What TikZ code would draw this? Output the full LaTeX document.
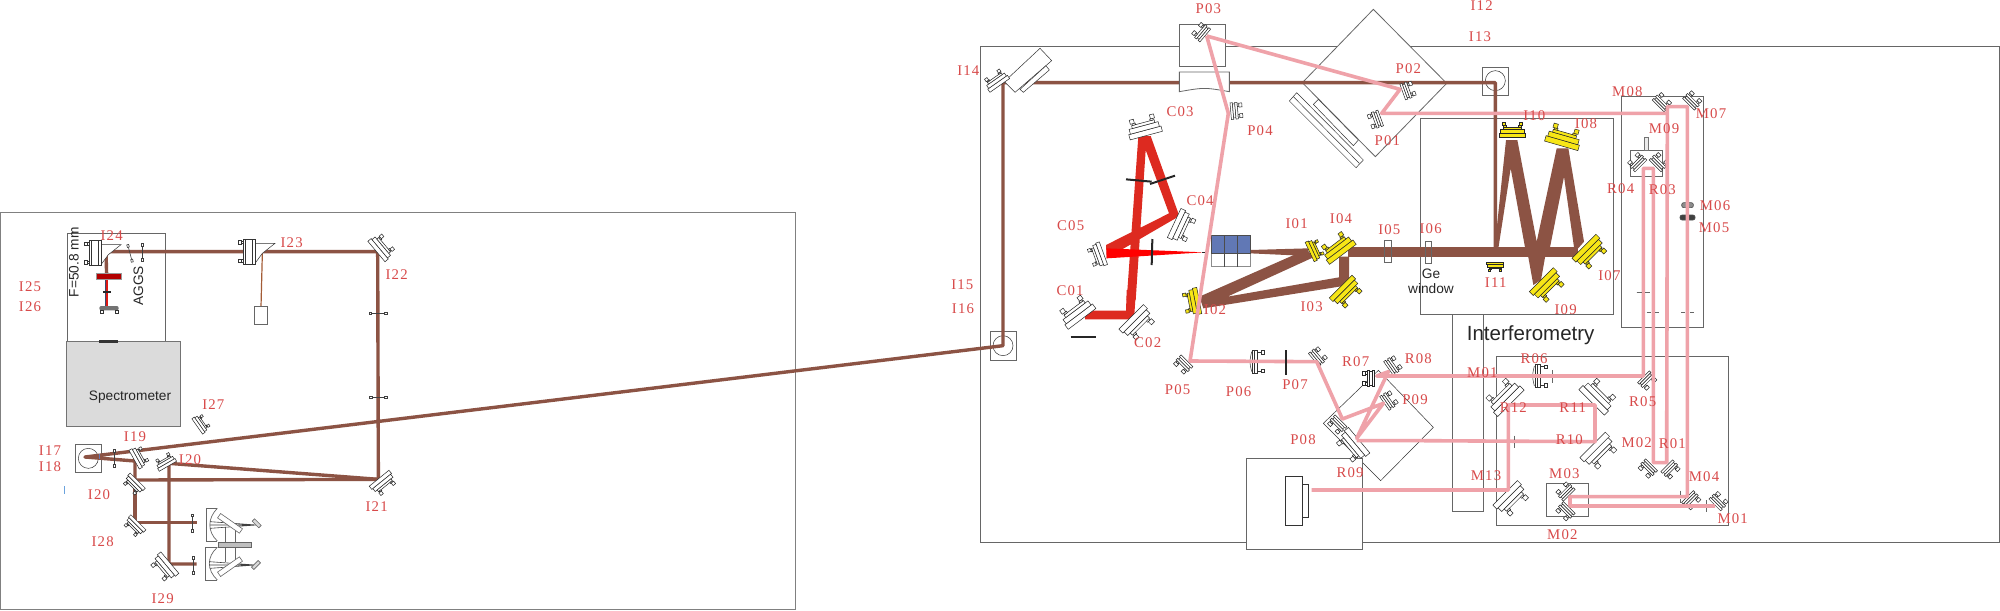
\documentclass[tikz,border=0pt]{standalone}
\usepackage{fontspec}
\setmainfont{Liberation Sans}
\newfontfamily\labf{Liberation Serif}[LetterSpace=8]
\definecolor{bro}{HTML}{8C5344}
\definecolor{pnk}{HTML}{EFA2A9}
\definecolor{rdb}{HTML}{DD2A20}
\definecolor{lbl}{HTML}{D84A4A}
\definecolor{blu}{HTML}{6178B5}
\definecolor{ylw}{HTML}{F7E616}
\definecolor{frm}{HTML}{666666}
\tikzset{
 z1/.style={shift={(0pt,-100pt)},x=0.16667pt,y=-0.16667pt},
 z2/.style={shift={(480pt,0pt)},x=0.16667pt,y=-0.16667pt},
 z3/.style={shift={(690pt,0pt)},x=0.16667pt,y=-0.16667pt},
 z4/.style={shift={(500pt,-145pt)},x=0.16667pt,y=-0.16667pt},
 z5/.style={shift={(710pt,-145pt)},x=0.16667pt,y=-0.16667pt},
 z6/.style={shift={(570pt,-100pt)},x=0.16667pt,y=-0.16667pt},
 z9/.style={shift={(60pt,-245pt)},x=0.16667pt,y=-0.16667pt},
 lab/.style={inner sep=0pt,text=lbl,font=\labf\fontsize{7.4}{9}\selectfont},
 sans/.style={inner sep=0pt,text=black!85,font=\fontsize{6.85}{8}\selectfont,align=center},
 thinbox/.style={draw=frm,line width=.4pt},
 hair/.style={draw=black!80,line width=.25pt},
 mline/.style={draw=black!85,line width=.25pt},
 bb/.style={draw=bro,line width=1.7pt,line join=round},
 pb/.style={draw=pnk,line width=1.8pt,line join=round},
 dashmark/.style={draw=black!60,line width=.3pt},
 bar/.style={draw=black!85,line width=1pt},
 mirror/.pic={
  \path[mline,fill=#1] (-18,-40) rectangle (-5,40);
  \path[mline,fill=#1] (-5,-36) rectangle (7,36);
  \path[mline,fill=#1] (7,-28) rectangle (14,28);
  \path[mline,fill=#1] (14,-26) rectangle (18,-18);
  \path[mline,fill=#1] (14,18) rectangle (18,26);
  \path[mline,fill=#1] (18,-30) rectangle (28,-20);
  \path[mline,fill=#1] (18,20) rectangle (28,30);
 },
 smirror/.pic={
  \path[mline,fill=white] (-18,-25) rectangle (-11,25);
  \path[mline,fill=white] (-11,-21) rectangle (-4,21);
  \path[mline,fill=white] (-4,-25) rectangle (3,25);
  \path[mline,fill=white] (3,-20) rectangle (8,-12);
  \path[mline,fill=white] (3,12) rectangle (8,20);
  \path[mline,fill=white] (8,-22) rectangle (17,-10);
  \path[mline,fill=white] (8,10) rectangle (17,22);
 },
 oap/.pic={
  \path[hair,fill=white] (18,-25) -- (78,-25) -- (40,5) -- (18,35) -- cycle;
  \path[hair,fill=white] (-18,-37) rectangle (18,37);
  \path[hair] (-11,-37) -- (-11,37) (9,-37) -- (9,37);
  \path[hair,fill=white] (-24,-32) rectangle (-18,-24);
  \path[hair,fill=white] (-24,24) rectangle (-18,32);
  \path[hair,fill=white] (-33,-33) rectangle (-24,-22);
  \path[hair,fill=white] (-33,22) rectangle (-24,33);
 },
 tlens/.pic={
  \path[draw=black!75,line width=.3pt] (0,-20) -- (0,20);
  \path[draw=black!75,line width=.3pt,fill=white] (-3,-27) rectangle (3,-19);
  \path[draw=black!75,line width=.3pt,fill=white] (-3,19) rectangle (3,27);
 },
 lensm/.pic={
  \path[hair] (-15,-30) .. controls (-22,0) .. (-15,30);
  \path[hair] (-12,-35) rectangle (2,35);
  \path[hair] (-6,-35) -- (-6,35);
  \path[hair] (2,-28) -- (14,-28) (2,28) -- (14,28);
  \path[hair,fill=white] (14,-33) rectangle (24,-23);
  \path[hair,fill=white] (14,23) rectangle (24,33);
 },
}
\newcommand{\mw}[4]{\pic[rotate=#3,scale=#4] at (#1,#2) {mirror=white};}
\newcommand{\my}[4]{\pic[rotate=#3,scale=#4] at (#1,#2) {mirror=ylw};}
\newcommand{\ms}[3]{\pic[rotate=#3] at (#1,#2) {smirror};}
\begin{document}
\begin{tikzpicture}
\useasboundingbox (0pt,0pt) rectangle (1000pt,-305pt);
\fill[white] (0pt,0pt) rectangle (1000pt,-305pt);

% ---------- frames
\begin{scope}[z1]
 \draw[draw=black!50,line width=.5pt] (2,37) rectangle (2386,1227);
 \draw[thinbox] (203,100) rectangle (496,424);
 \draw[draw=black!55,line width=.4pt,fill=black!14] (200,424) rectangle (542,678);
 \fill[black!80] (297,421) rectangle (353,428);
\end{scope}
\begin{scope}[z2]
 \draw[draw=frm,line width=.5pt] (60,139) rectangle (3117,1627);
 \draw[thinbox,fill=white] (1240,28) -- (1027,248) -- (1246,470) -- (1460,250) -- cycle;
 \draw[thinbox,fill=white] (657,73) rectangle (797,200);
\end{scope}
\begin{scope}[z4]
 \draw[hair,fill=white] (1135,241) -- (970,400) -- (1142,572) -- (1300,412) -- cycle;
 \draw[thinbox,fill=white] (738,504) rectangle (1088,778);
 \draw[hair] (856,559) rectangle (906,706);
 \draw[hair] (906,583) rectangle (925,682);
\end{scope}
\begin{scope}[z3]
 \draw[thinbox] (120,355) rectangle (700,943);
 \draw[thinbox] (725,290) rectangle (970,983);
 \draw[thinbox] (750,450) rectangle (848,530);
 \draw[draw=black!55,line width=.3pt,fill=black!8] (793,412) rectangle (805,450);
 \draw[thinbox] (307,201) rectangle (386,285);
 \draw[hair] (346,242) circle (30);
\end{scope}
\begin{scope}[z5]
 \draw[thinbox] (97,73) rectangle (191,664);
 \draw[thinbox] (230,200) rectangle (925,707);
 \draw[thinbox] (380,580) rectangle (506,678);
\end{scope}
\begin{scope}[z1]
 \draw[thinbox] (225,733) rectangle (305,818);
 \draw[hair] (265,775) circle (30);
\end{scope}
\begin{scope}[z2]
 \draw[thinbox] (90,995) rectangle (168,1080);
 \draw[hair] (129,1037) circle (30);
\end{scope}

% ---------- named beam points
\begin{scope}[z1]
 \coordinate (b24) at (318,155); \coordinate (b22) at (1133,155);
 \coordinate (b21) at (1135,838); \coordinate (b20) at (405,840);
 \coordinate (b19) at (405,783); \coordinate (b17) at (255,771);
 \coordinate (b28) at (405,967); \coordinate (b28e) at (590,967);
 \coordinate (b120) at (507,790); \coordinate (b29) at (507,1092);
 \coordinate (b29e) at (590,1092);
 \coordinate (b23) at (787,160); \coordinate (b23e) at (783,320);
\end{scope}
\begin{scope}[z2]
 \coordinate (b16) at (129,1037); \coordinate (b14) at (129,248);
 \coordinate (p03) at (740,108); \coordinate (p04) at (805,340);
\end{scope}
\begin{scope}[z3]
 \coordinate (b13) at (346,248); \coordinate (b13e) at (346,755);
 \coordinate (p02) at (60,268); \coordinate (p01) at (5,340);
 \coordinate (m09) at (862,340); \coordinate (m09t) at (862,320);
 \coordinate (m07) at (922,320); \coordinate (r04) at (790,505);
 \coordinate (r03) at (820,505);
\end{scope}
\begin{scope}[z4]
 \coordinate (p05) at (570,213); \coordinate (p07) at (950,215);
 \coordinate (p08) at (1027,387); \coordinate (pr9) at (1150,340);
 \coordinate (r09) at (1070,445); \coordinate (r09b) at (1070,452);
 \coordinate (r08) at (1165,245); \coordinate (r07) at (1130,258);
 \coordinate (pend) at (935,600);
\end{scope}
\begin{scope}[z5]
 \coordinate (r05) at (670,258); \coordinate (m02a) at (700,518);
 \coordinate (r01) at (740,518); \coordinate (m04) at (802,620);
 \coordinate (m03) at (450,620); \coordinate (m02b) at (450,648);
 \coordinate (m01) at (885,648); \coordinate (r10) at (525,455);
 \coordinate (r11) at (525,345); \coordinate (r12) at (265,345);
 \coordinate (m13) at (265,600); \coordinate (r09c) at (0,452);
\end{scope}

% ---------- brown beams
\draw[bb] (b24) -- (b22) -- (b21) -- (b20) -- (b19) -- (b17) -- (b16) -- (b14) -- (b13) -- (b13e);
\draw[bb] (b20) -- (b28) -- (b28e);
\draw[bb] (b29e) -- (b29) -- (b120) -- (b21);
\draw[draw=bro!80!orange,line width=.6pt] (b23) -- (b23e);
\begin{scope}[z1]
 \draw[bb] (b24) -- (320,230);
 \draw[draw=blu!60!black,line width=.4pt] (316,230) -- (316,320);
 \draw[draw=red!70!bro,line width=.7pt] (321,230) -- (321,320);
 \draw[thinbox] (763,319) rectangle (802,373);
 \draw[draw=black!40,line width=.3pt,fill=red!70!black] (289,221) rectangle (365,238);
 \draw[bar,line width=.7pt] (310,276) -- (332,276);
 \fill[black!55,rounded corners=1pt] (298,318) rectangle (356,331);
 \draw[hair,fill=white] (302,331) rectangle (310,339);
 \draw[hair,fill=white] (346,331) rectangle (354,339);
 \draw[draw=cyan!60!blue!60,line width=.4pt] (192,858) -- (192,882);
 \draw[draw=blu,line width=.5pt] (298,763) -- (298,778);
\end{scope}
\begin{scope}[z3]
 \fill[bro] (-96,742) rectangle (595,772);
 \fill[bro] (343,752) -- (378,420) -- (412,420) -- (470,725) -- (530,445) -- (565,445) -- (612,725) -- (590,750) -- (582,742) -- (552,530) -- (510,742) -- (495,772) -- (483,840) -- (460,855) -- (445,772) -- (435,742) -- (392,505) -- (355,745) -- cycle;
 \draw[draw=frm,line width=.4pt] (14,722) rectangle (34,787);
 \draw[draw=frm,line width=.4pt] (136,725) rectangle (155,790);
\end{scope}
\begin{scope}[z6]
 \fill[bro] (330,150) -- (505,145) -- (505,168) -- (330,160) -- cycle;
 \fill[bro] (178,290) -- (500,148) -- (520,172) -- (262,290) -- (597,232) -- (597,170) -- (627,170) -- (627,235) -- (610,258) -- (190,325) -- cycle;
\end{scope}

% ---------- red beams
\begin{scope}[z2]
 \fill[rdb] (535,408) -- (572,408) -- (655,640) -- (655,650) -- (440,775) -- (438,735) -- (627,640) -- (557,450) -- (527,900) -- (500,900) -- cycle;
 \fill[red] (440,745) -- (730,757) -- (440,775) -- cycle;
\end{scope}
\begin{scope}[z4]
 \fill[rdb] (380,0) -- (408,0) -- (402,88) -- (255,88) -- (255,62) -- (378,62) -- cycle;
\end{scope}

% ---------- white overlays on the top beam
\begin{scope}[z2]
 \draw[thinbox,fill=white] (658,216) -- (808,216) -- (808,275) .. controls (733,262) .. (658,275) -- cycle;
 \draw[hair,fill=white] (133,245) -- (240,145) -- (275,182) -- (165,277) -- cycle;
 \draw[hair,fill=white] (180,268) -- (258,197) -- (268,210) -- (190,277) -- cycle;
 \draw[hair,fill=white] (1010,278) -- (988,303) -- (1188,503) -- (1210,480) -- cycle;
 \draw[hair] (1000,290) -- (1198,490);
 \draw[hair,fill=white] (1075,298) -- (1060,313) -- (1180,437) -- (1195,420) -- cycle;
 % blue block
 \draw[draw=black!45,line width=.4pt,fill=white] (753,760) rectangle (870,800);
 \draw[draw=black!70,line width=.4pt,fill=blu] (753,706) rectangle (870,760);
 \draw[draw=black!70,line width=.4pt] (792,706) -- (792,800) (831,706) -- (831,800);
\end{scope}

% ---------- left optics
\begin{scope}[z1]
 \pic at (285,159) {oap};
 \pic at (747,155) {oap};
 \mw{1143}{143}{40}{1}
 \mw{1148}{848}{-51}{.95}
 \mw{602}{672}{35}{.7}
 \mw{415}{772}{29}{.8}
 \mw{497}{787}{120}{.75}
 \mw{403}{852}{-135}{.8}
 \mw{405}{977}{-135}{.8}
 \mw{495}{1100}{-140}{1.05}
 \pic[rotate=15] at (390,160) {tlens};
 \pic at (428,157) {tlens};
 \pic[rotate=90] at (1134,340) {tlens};
 \pic[rotate=90] at (1135,592) {tlens};
 \pic at (343,775) {tlens};
 \pic at (577,969) {tlens};
 \pic at (580,1096) {tlens};
\end{scope}
\begin{scope}[z9]
 \draw[draw=black!60,line width=.35pt] (315,110) -- (315,215) (345,110) -- (345,215);
 \draw[draw=black!60,line width=.35pt] (292,55) -- (260,55) -- (260,153) -- (292,153);
 \draw[draw=black!60,line width=.35pt] (292,55) .. controls (262,85) and (262,125) .. (292,153);
 \draw[draw=black!60,line width=.35pt] (292,172) -- (257,172) -- (257,270) -- (292,270);
 \draw[draw=black!60,line width=.35pt] (292,172) .. controls (260,200) and (260,240) .. (292,270);
 \draw[draw=black!75,line width=.3pt] (270,95) -- (410,105) (270,105) -- (410,105) (270,115) -- (410,105);
 \draw[draw=black!75,line width=.3pt] (268,215) -- (406,225) (268,225) -- (406,225) (270,235) -- (406,225);
 \draw[draw=black!60,line width=.3pt,fill=white,rotate around={-35:(330,100)}] (290,92) rectangle (370,108);
 \draw[draw=black!60,line width=.3pt,fill=white,rotate around={35:(330,230)}] (290,222) rectangle (370,238);
 \draw[draw=black!60,line width=.3pt,fill=black!25] (296,157) rectangle (395,171);
 \draw[draw=black!60,line width=.3pt,fill=black!15,rotate around={-45:(410,100)}] (396,95) rectangle (424,105);
 \draw[draw=black!60,line width=.3pt,fill=black!15,rotate around={45:(408,225)}] (394,220) rectangle (422,230);
\end{scope}

% ---------- right optics
\begin{scope}[z2]
 \mw{110}{243}{125}{.9}
 \mw{553}{385}{105}{1.25}
 \mw{662}{678}{-25}{1.2}
 \mw{415}{765}{200}{.9}
 \ms{722}{95}{140}
 \ms{830}{332}{5}
 \ms{1245}{360}{200}
\end{scope}
\begin{scope}[z3]
 \ms{85}{270}{20}
 \ms{847}{305}{45}
 \ms{938}{300}{45}
 \ms{770}{485}{135}
 \ms{838}{485}{45}
 \draw[draw=black!70,line width=.3pt,fill=black!45,rounded corners=1pt] (905,608) rectangle (940,623);
 \draw[draw=black!70,line width=.3pt,fill=black!75,rounded corners=1pt] (900,645) rectangle (945,660);
 \my{397}{395}{90}{1}
 \my{550}{415}{74}{1.3}
 \my{628}{755}{-45}{1.27}
 \my{500}{855}{-45}{1.27}
 \my{345}{797}{-90}{.65}
\end{scope}
\begin{scope}[z6]
 \my{522}{150}{25}{.8}
 \my{595}{145}{127}{1.25}
 \my{617}{275}{-45}{1.2}
 \my{160}{305}{191}{1}
\end{scope}
\begin{scope}[z4]
 \mw{232}{68}{127}{1.3}
 \mw{410}{97}{-45}{1.3}
 \ms{548}{225}{-135}
 \ms{955}{198}{40}
 \ms{1105}{265}{180}
 \ms{1180}{225}{35}
 \ms{1168}{330}{35}
 \ms{1010}{405}{-135}
 \mw{1060}{465}{-140}{1.25}
 \pic at (770,215) {lensm};
 \draw[bar] (212,141) -- (288,141);
\end{scope}
\begin{scope}[z5]
 \ms{683}{273}{-45}
 \ms{682}{537}{-135}
 \ms{753}{540}{-45}
 \ms{815}{632}{-45}
 \ms{897}{632}{45}
 \ms{435}{603}{135}
 \ms{435}{665}{-135}
 \mw{532}{320}{45}{1.35}
 \mw{535}{482}{-45}{1.35}
 \mw{255}{322}{135}{1.4}
 \mw{272}{625}{-45}{1.3}
 \pic at (358,258) {lensm};
\end{scope}

% ---------- pink beams
\draw[pb] (p03) -- (p04) -- (p05) -- (p07) -- (p08) -- (pr9) -- (r09) -- (r08) -- (r07) -- (r05) -- (r04) -- (r03) -- (m02a) -- (r01) -- (m09t) -- (m07) -- (m04) -- (m03) -- (m02b) -- (m01);
\draw[pb] (p03) -- (p02) -- (p01) -- (m09);
\draw[pb] (r09b) -- (r09c) -- (r10) -- (r11) -- (r12) -- (m13) -- (pend);

% ---------- black bars and dash marks
\begin{scope}[z2]
 \draw[bar] (498,538) -- (575,545);
 \draw[bar] (570,552) -- (645,527);
 \draw[bar] (577,717) -- (575,795);
 \draw[bar,line width=.5pt] (725,757) -- (735,757);
\end{scope}
\begin{scope}[z4]
 \draw[bar] (858,180) -- (858,255);
\end{scope}
\begin{scope}[z3]
 \draw[dashmark] (770,877) -- (785,877) (795,877) -- (808,877);
\end{scope}
\begin{scope}[z5]
 \draw[dashmark] (650,7) -- (662,7) (675,7) -- (690,7);
 \draw[dashmark] (680,66) -- (692,66) (705,66) -- (718,66);
 \draw[dashmark] (783,66) -- (795,66) (810,66) -- (822,66);
 \draw[dashmark] (283,437) -- (283,450) (283,460) -- (283,475);
 \draw[dashmark] (398,240) -- (398,252) (398,264) -- (398,278);
 \draw[dashmark] (858,630) -- (858,642) (858,655) -- (858,667);
 \draw[dashmark] (782,602) -- (782,614) (782,627) -- (782,640);
\end{scope}

% ---------- labels
\begin{scope}[z1]
 \node[lab] (lI24) at (335,107) {I24};
 \node[lab] (lI23) at (875,127) {I23};
 \node[lab] (lI22) at (1190,223) {I22};
 \node[lab] (lI25) at (90,260) {I25};
 \node[lab] (lI26) at (90,320) {I26};
 \node[lab] (lI27) at (640,613) {I27};
 \node[lab] (lI19) at (405,710) {I19};
 \node[lab] (lI17) at (150,751) {I17};
 \node[lab] (lI18) at (150,799) {I18};
 \node[lab] (lI20a) at (570,780) {I20};
 \node[lab] (lI20b) at (297,883) {I20};
 \node[lab] (lI21) at (1130,920) {I21};
 \node[lab] (lI28) at (308,1024) {I28};
 \node[lab] (lI29) at (488,1195) {I29};
 \node[sans,rotate=90] (tF) at (222,187) {F=50.8 mm};
 \node[sans,rotate=90] (tA) at (415,257) {AGGS};
 \node[sans] (tS) at (390,592) {Spectrometer};
\end{scope}
\begin{scope}[z2]
 \node[lab] (lP03) at (745,25) {P03};
 \node[lab] (lC03) at (660,335) {C03};
 \node[lab] (lP04) at (900,392) {P04};
 \node[lab] (lC04) at (720,602) {C04};
 \node[lab] (lC05) at (332,677) {C05};
 \node[lab] (lI01) at (1010,672) {I01};
 \node[lab] (lI04) at (1143,657) {I04};
 \node[lab] (lC01) at (330,873) {C01};
 \node[lab] (lI14) at (25,212) {I14};
 \node[lab] (lI15) at (7,855) {I15};
 \node[lab] (lI16) at (9,927) {I16};
\end{scope}
\begin{scope}[z3]
 \node[lab] (lI12) at (305,17) {I12};
 \node[lab] (lI13) at (300,110) {I13};
 \node[lab] (lP02) at (85,207) {P02};
 \node[lab] (lP01) at (22,422) {P01};
 \node[lab] (lM08) at (742,275) {M08};
 \node[lab] (lI10) at (463,347) {I10};
 \node[lab] (lI08) at (618,372) {I08};
 \node[lab] (lM09) at (852,387) {M09};
 \node[lab] (lM07) at (993,340) {M07};
 \node[lab] (lR04) at (722,565) {R04};
 \node[lab] (lR03) at (847,570) {R03};
 \node[lab] (lM06) at (1005,617) {M06};
 \node[lab] (lM05) at (1002,684) {M05};
 \node[lab] (lI05) at (28,690) {I05};
 \node[lab] (lI06) at (152,687) {I06};
 \node[lab] (lI11) at (347,848) {I11};
 \node[lab] (lI07) at (688,827) {I07};
 \node[sans] (tGe) at (153,843) {Ge\\[-.5pt]window};
\end{scope}
\begin{scope}[z4]
 \node[lab] (lC02) at (443,158) {C02};
 \node[lab] (lI02) at (645,60) {I02};
 \node[lab] (lI03) at (935,50) {I03};
 \node[lab] (lP05) at (533,298) {P05};
 \node[lab] (lP06) at (716,305) {P06};
 \node[lab] (lP07) at (885,284) {P07};
 \node[lab] (lR07) at (1067,215) {R07};
 \node[lab] (lR08) at (1255,205) {R08};
 \node[lab] (lP09) at (1245,328) {P09};
 \node[lab] (lP08) at (909,449) {P08};
 \node[lab] (lR09) at (1050,548) {R09};
\end{scope}
\begin{scope}[z5]
 \node[lab] (lR06) at (342,207) {R06};
 \node[lab] (lM01a) at (187,248) {M01};
 \node[lab] (lR12) at (280,353) {R12};
 \node[lab] (lR11) at (458,353) {R11};
 \node[lab] (lR05) at (668,335) {R05};
 \node[lab] (lM02a) at (650,458) {M02};
 \node[lab] (lR01) at (757,460) {R01};
 \node[lab] (lR10) at (448,450) {R10};
 \node[lab] (lM13) at (198,557) {M13};
 \node[lab] (lM03) at (433,550) {M03};
 \node[lab] (lM04) at (852,561) {M04};
 \node[lab] (lM01b) at (938,686) {M01};
 \node[lab] (lM02b) at (427,734) {M02};
 \node[lab] (lI09) at (437,60) {I09};
 \node[sans,font=\fontsize{10.25}{12}\selectfont] (tI) at (332,135) {Interferometry};
\end{scope}
\end{tikzpicture}
\end{document}
